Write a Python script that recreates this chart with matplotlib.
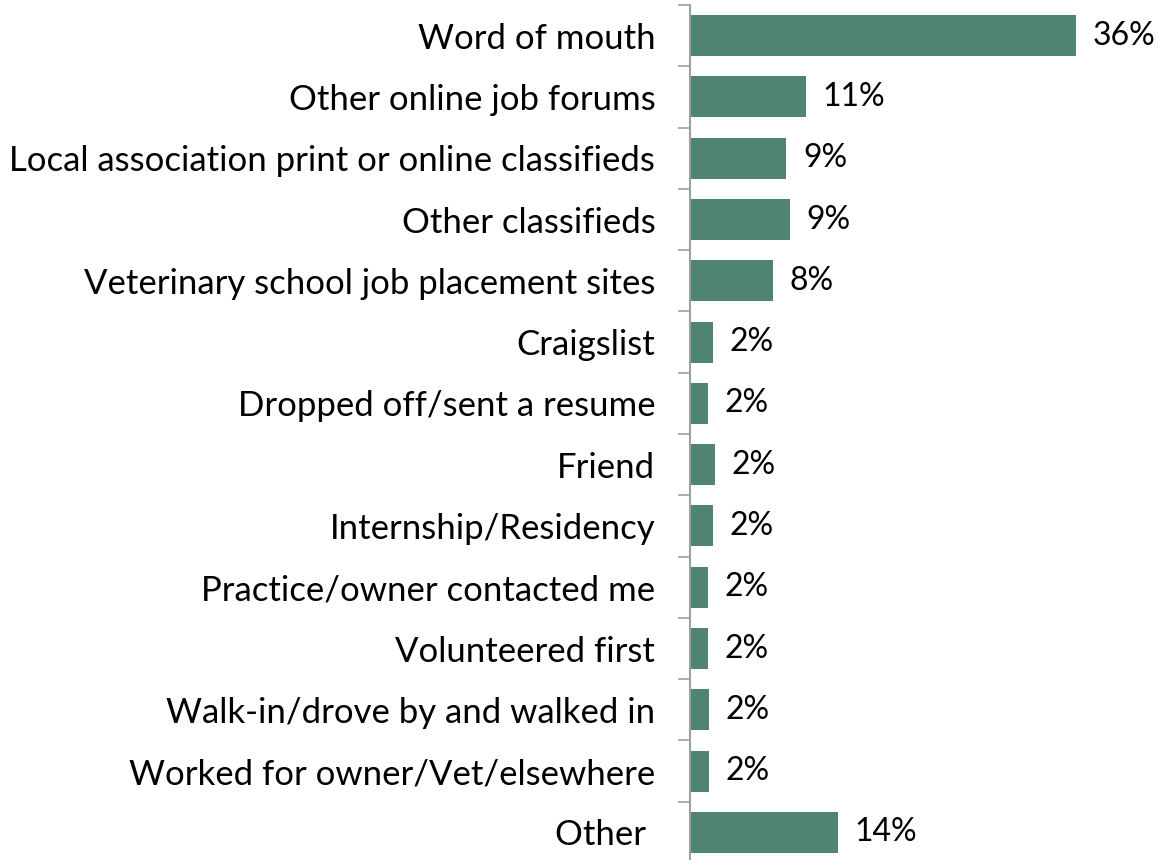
import matplotlib.pyplot as plt
import numpy as np

categories = [
    "Word of mouth",
    "Other online job forums",
    "Local association print or online classifieds",
    "Other classifieds",
    "Veterinary school job placement sites",
    "Craigslist",
    "Dropped off/sent a resume",
    "Friend",
    "Internship/Residency",
    "Practice/owner contacted me",
    "Volunteered first",
    "Walk-in/drove by and walked in",
    "Worked for owner/Vet/elsewhere",
    "Other ",
]
values = [36.0, 10.8, 9.0, 9.3, 7.7, 2.1, 1.7, 2.3, 2.1, 1.7, 1.7, 1.8, 1.8, 13.8]
value_labels = ["36%", "11%", "9%", "9%", "8%", "2%", "2%", "2%", "2%", "2%", "2%", "2%", "2%", "14%"]

plt.rcParams['font.family'] = ['Lato', 'DejaVu Sans']

def main():
    fig = plt.figure(figsize=(11.59, 8.6), dpi=100)
    ax = fig.add_axes([690 / 1159, -3 / 860, 469 / 1159, 858 / 860])
    y = np.arange(len(categories))
    bars = ax.barh(y, values, height=0.67, color="#4E8470")
    ax.set_ylim(len(categories) - 0.5, -0.5)
    ax.set_xlim(0, 469 / 10.72)

    ax.set_yticks(y)
    ax.set_yticklabels(categories, fontsize=25)
    ax.set_yticks(np.arange(len(categories) + 1) - 0.5, minor=True)
    ax.tick_params(axis="y", which="major", length=0, pad=25)
    ax.tick_params(axis="y", which="minor", length=9, width=1.2, color="#A0A0A0")
    ax.set_xticks([])

    for s in ["top", "right", "bottom"]:
        ax.spines[s].set_visible(False)
    ax.spines["left"].set_color("#A0A0A0")
    ax.spines["left"].set_linewidth(1.5)

    for b, lab in zip(bars, value_labels):
        ax.annotate(lab, (b.get_width(), b.get_y() + b.get_height() / 2),
                    xytext=(12, 0), textcoords="offset points",
                    va="center", ha="left", fontsize=23)

    fig.savefig("out.png", dpi=100)

if __name__ == "__main__":
    main()
